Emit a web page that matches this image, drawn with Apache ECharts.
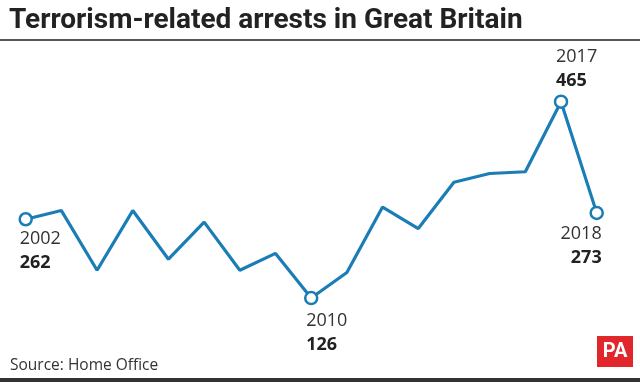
<!DOCTYPE html>
<html><head><meta charset="utf-8">
<script src="https://cdn.jsdelivr.net/npm/echarts@6/dist/echarts.min.js"></script>
<style>html,body{margin:0;padding:0;background:#fff}#c{width:640px;height:382px}</style>
</head><body><div id="c"></div>
<script>
const years = ['2002','2003','2004','2005','2006','2007','2008','2009','2010','2011','2012','2013','2014','2015','2016','2017','2018'];
const arrests = [262,277,174,277,193,257,174,203,126,170,283,246,326,341,344,465,273];
const labelled = {'2002':{dx:-6,dy:8,align:'left',va:'top'},'2010':{dx:-5,dy:11,align:'left',va:'top'},'2017':{dx:-5,dy:-9,align:'left',va:'bottom'},'2018':{dx:5,dy:9,align:'right',va:'top'}};
const blue = '#1b7db5';
const data = arrests.map((v,i)=>{
  const y = years[i];
  const L = labelled[y];
  if(!L) return {value:v, symbolSize:0};
  return {value:v, symbol:'circle', symbolSize:12,
    itemStyle:{color:'#fff',borderColor:blue,borderWidth:2.5},
    label:{show:true, position:'inside', align:L.align, verticalAlign:L.va, offset:[L.dx,L.dy],
      formatter:'{y|'+y+'}\n{v|'+v+'}',
      rich:{y:{fontFamily:'Open Sans',fontSize:18,color:'#333',lineHeight:24,align:L.align},
            v:{fontFamily:'Open Sans',fontSize:18,fontWeight:'bold',color:'#222',lineHeight:24,align:L.align}}}};
});
const chart = echarts.init(document.getElementById('c'));
chart.setOption({
  animation:false,
  backgroundColor:'#fff',
  title:{text:'Terrorism-related arrests in Great Britain',left:4,top:2,
    textStyle:{fontFamily:'Roboto',fontWeight:'bold',fontSize:28,color:'#222'}},
  grid:{left:25.7,right:43.3,top:81.4,bottom:11},
  xAxis:{type:'category',data:years,boundaryGap:false,show:false},
  yAxis:{type:'value',min:0,max:500,show:false},
  series:[{type:'line',data:data,lineStyle:{color:blue,width:3.2},itemStyle:{color:blue},
    showAllSymbol:true,symbol:'circle',z:3}],
  graphic:[
    {type:'rect',left:0,top:39,shape:{width:640,height:2},style:{fill:'#555'}},
    {type:'rect',left:0,top:378,shape:{width:640,height:4},style:{fill:'#333'}},
    {type:'text',left:10,top:358,style:{text:'Source: Home Office',fontFamily:'Open Sans',fontSize:15.5,fill:'#333'}},
    {type:'rect',left:597,top:336,shape:{width:36,height:31},style:{fill:'#e1262c'}},
    {type:'text',x:615,y:352,style:{text:'PA',fontFamily:'Roboto',fontWeight:'bold',fontSize:20,fill:'#fff',align:'center',verticalAlign:'middle'}}
  ]
});
</script></body></html>
